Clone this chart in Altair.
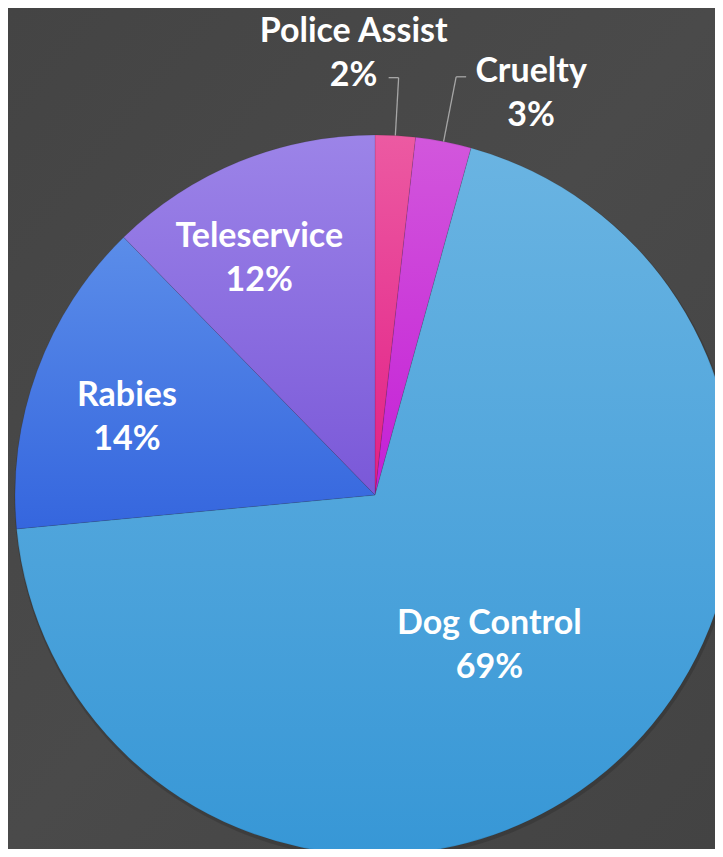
import math
import altair as alt
import pandas as pd

# ---- data ----
categories = ["Police Assist", "Cruelty", "Dog Control", "Rabies", "Teleservice"]
shares = [1.8, 2.5, 69.2, 14.2, 12.3]
pct_labels = ["2%", "3%", "69%", "14%", "12%"]
grad_top = ["#ec5aa2", "#d257dc", "#6ab4e2", "#5b8de9", "#9c84e8"]
grad_bot = ["#e21f86", "#c41fd6", "#3797d6", "#3566de", "#7a58d8"]

df = pd.DataFrame({"category": categories, "share": shares, "pct": pct_labels,
                   "order": list(range(len(categories)))})

W, H = 707, 841
CX, CY, R = 367, 487, 360
theta_scale = alt.Scale(domain=[0, 100], range=[0, 2 * math.pi])

base = alt.Chart(df).transform_window(
    cum="sum(share)", sort=[alt.SortField("order")], frame=[None, 0]
).transform_calculate(
    start="datum.cum - datum.share",
    mid="datum.cum - datum.share / 2",
    label="[datum.category, datum.pct]",
)


def polar(chart, r, xn, yn):
    return chart.transform_calculate(**{
        xn: f"{CX} + {r} * sin(2 * PI * datum.mid / 100)",
        yn: f"{CY} - {r} * cos(2 * PI * datum.mid / 100)",
    })


# background
bg = alt.Chart(df.head(1)).mark_rect(
    fill=alt.LinearGradient(gradient="linear", x1=0, y1=0, x2=1, y2=1,
                            stops=[alt.GradientStop(color="#444444", offset=0),
                                   alt.GradientStop(color="#4a4a4a", offset=0.5),
                                   alt.GradientStop(color="#434343", offset=1)])
).encode(x=alt.value(0), x2=alt.value(W), y=alt.value(0), y2=alt.value(H))

shadow = alt.Chart(df.head(1)).mark_arc(
    theta=0, theta2=2 * math.pi, outerRadius=R + 1.5, color="#000000", opacity=0.14
).encode(x=alt.value(CX + 1), y=alt.value(CY + 2.5))

layers = [bg, shadow]
for cat, top, bot in zip(categories, grad_top, grad_bot):
    layers.append(
        base.transform_filter(alt.datum.category == cat).mark_arc(
            outerRadius=R,
            fill=alt.LinearGradient(gradient="linear", x1=0, y1=0, x2=0, y2=1,
                                    stops=[alt.GradientStop(color=top, offset=0),
                                           alt.GradientStop(color=bot, offset=1)]),
            stroke="#000000", strokeOpacity=0.12, strokeWidth=0.8,
        ).encode(
            theta=alt.Theta("start:Q", scale=theta_scale),
            theta2="cum:Q",
            x=alt.value(CX), y=alt.value(CY),
        )
    )

text_style = dict(font="Lato", fontSize=34, fontWeight="bold", color="white",
                  align="center", baseline="middle", lineHeight=44)

# inside labels
for cat, r, dx, dy in [("Dog Control", 189, -7, -16), ("Rabies", 260, -4, -9),
                       ("Teleservice", 262, -17, -15)]:
    layers.append(
        polar(base.transform_filter(alt.datum.category == cat), r, "px", "py")
        .mark_text(dx=dx, dy=dy, **text_style)
        .encode(x=alt.X("px:Q", scale=None), y=alt.Y("py:Q", scale=None), text="label:N")
    )

# outside labels with leader lines
leader_style = dict(color="#a6a6a6", strokeWidth=1.3)
for cat, r_elbow, side, dx, dy in [("Police Assist", 418, -1, -35, -46),
                                   ("Cruelty", 426, 1, 65, -5)]:
    sel = base.transform_filter(alt.datum.category == cat)
    p = polar(polar(sel, R, "x1", "y1"), r_elbow, "x2", "y2").transform_calculate(
        x3=f"datum.x2 + {side} * 10"
    )
    layers.append(p.mark_rule(**leader_style).encode(
        x=alt.X("x1:Q", scale=None), y=alt.Y("y1:Q", scale=None),
        x2="x2:Q", y2="y2:Q"))
    layers.append(p.mark_rule(**leader_style).encode(
        x=alt.X("x2:Q", scale=None), y=alt.Y("y2:Q", scale=None),
        x2="x3:Q", y2="y2:Q"))
    layers.append(p.mark_text(dx=dx, dy=dy, **text_style).encode(
        x=alt.X("x3:Q", scale=None), y=alt.Y("y2:Q", scale=None), text="label:N"))

chart = alt.layer(*layers).properties(
    width=W, height=H, padding=0, autosize=alt.AutoSizeParams(type="none"),
    background="#464646",
).configure_view(stroke=None)

chart.save("out.html", embed_options={"renderer": "svg", "actions": False})
